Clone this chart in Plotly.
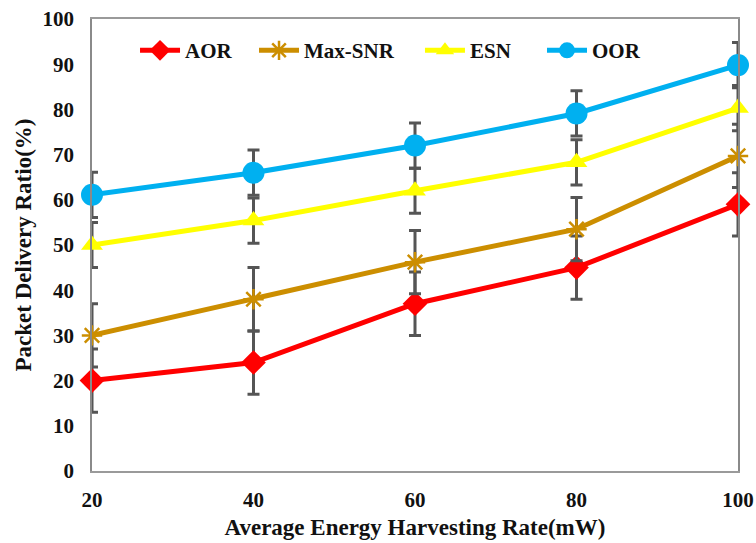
import plotly.graph_objects as go

x_vals = [20, 40, 60, 80, 100]
aor = [20, 24, 37, 45, 59]
max_snr = [30, 38, 46.2, 53.5, 69.7]
esn = [50, 55.4, 62, 68.3, 80.3]
oor = [61.1, 66, 72, 79.1, 89.8]
err_aor = [7, 7, 7, 7, 7]
err_max_snr = [7, 7, 7, 7, 7]
err_esn = [5, 5, 5, 5, 5]
err_oor = [5, 5, 5, 5, 5]

series = [
    ("AOR", aor, err_aor, "#FF0000", "diamond", 19, "legend", 0.0666),
    ("Max-SNR", max_snr, err_max_snr, "#CC8E00", "asterisk-open", 17, "legend2", 0.2508),
    ("ESN", esn, err_esn, "#FFFF00", "triangle-up", 19, "legend3", 0.5077),
    ("OOR", oor, err_oor, "#00B0F0", "circle", 22, "legend4", 0.6966),
]

font_family = "Liberation Serif, Times New Roman, serif"

fig = go.Figure()
legend_layouts = {}
for name, vals, errs, color, sym, size, leg, lx in series:
    marker = dict(symbol=sym, size=size, color=color)
    if sym == "asterisk-open":
        marker["line"] = dict(color=color, width=2.5)
    fig.add_trace(go.Scatter(
        x=x_vals, y=vals, name=name, mode="lines+markers",
        line=dict(color=color, width=5),
        marker=marker,
        error_y=dict(type="data", array=errs, visible=True, color="#555555", thickness=3, width=6),
        cliponaxis=False, legend=leg,
    ))
    legend_layouts[leg] = dict(
        x=lx, y=0.93, xanchor="left", yanchor="middle", orientation="h",
        itemwidth=40,
        font=dict(family=font_family, size=21, color="#111111", weight="bold"),
        bgcolor="rgba(0,0,0,0)", borderwidth=0,
    )

fig.update_layout(
    width=756, height=543,
    margin=dict(l=92, r=18, t=19, b=72, autoexpand=False),
    paper_bgcolor="white", plot_bgcolor="white",
    font=dict(family=font_family, size=16, color="#111111"),
    showlegend=True,
    xaxis=dict(range=[20, 100], tickvals=x_vals, showgrid=False, zeroline=False,
               showline=True, linecolor="#9a9a9a", linewidth=1.5, mirror=True,
               ticks="", ticklabelstandoff=9, automargin=False,
               tickfont=dict(family=font_family, size=21, weight="bold", color="#111111"),
               title=dict(text="Average Energy Harvesting Rate(mW)",
                          font=dict(family=font_family, size=23, weight="bold", color="#111111"),
                          standoff=8)),
    yaxis=dict(range=[0, 100], dtick=10, showgrid=False, zeroline=False,
               showline=True, linecolor="#8a8a8a", linewidth=1.5, mirror=True,
               ticks="", ticklabelstandoff=12, automargin=False,
               tickfont=dict(family=font_family, size=21, weight="bold", color="#111111"),
               title=dict(text="Packet Delivery Ratio(%)",
                          font=dict(family=font_family, size=23, weight="bold", color="#111111"),
                          standoff=4)),
)
fig.update_layout(**legend_layouts)

fig.write_html("out.html")
